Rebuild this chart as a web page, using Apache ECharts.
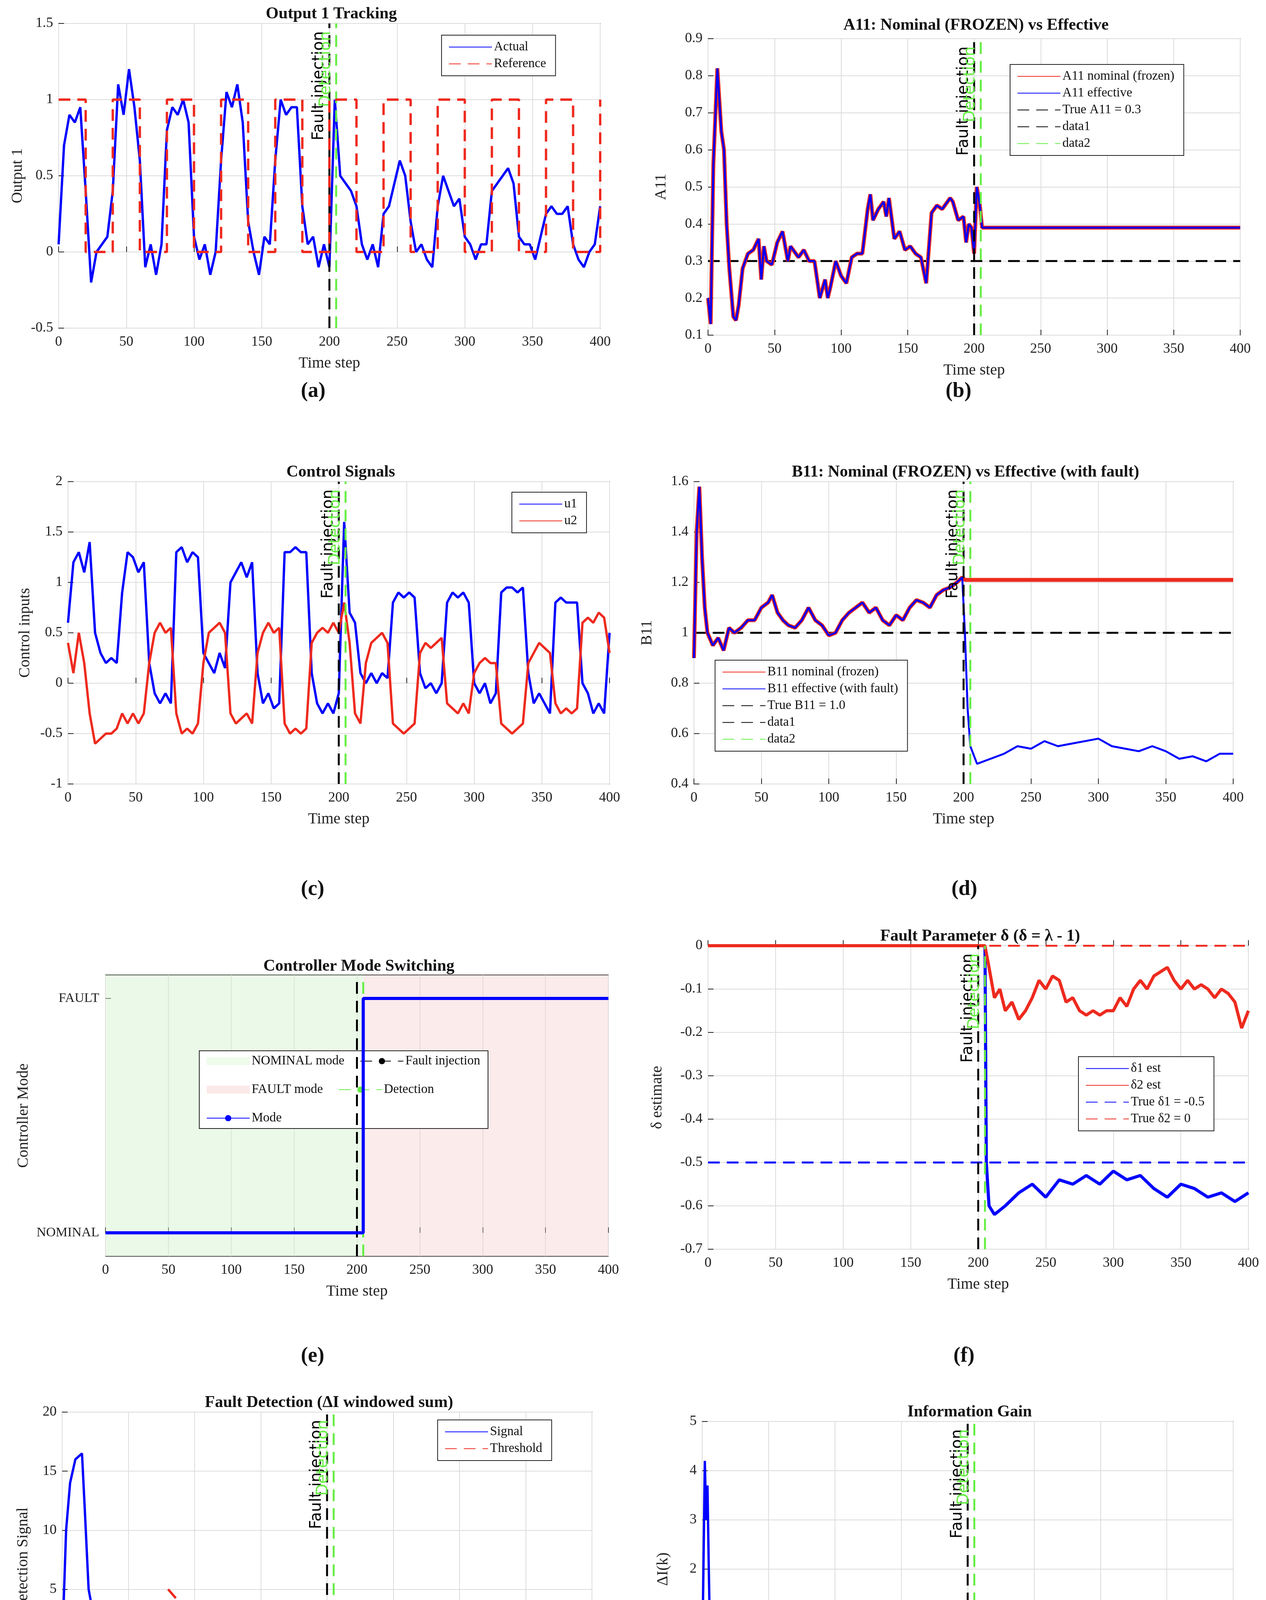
<!DOCTYPE html>
<html><head><meta charset="utf-8">
<script src="https://cdn.jsdelivr.net/npm/echarts@6/dist/echarts.min.js"></script>
<style>html,body{margin:0;background:#fff}#c{width:3240px;height:4710px}</style>
</head><body><div id="c"></div>
<script>
// ---------- data ----------
const T4 = Array.from({length:101},(_,i)=>i*4);
const outActual = [0.05,0.7,0.9,0.85,0.95,0.4,-0.2,0,0.05,0.1,0.4,1.1,0.9,1.2,0.95,0.6,-0.1,0.05,-0.15,0.05,0.8,0.95,0.9,1.0,0.85,0.1,-0.05,0.05,-0.15,0,0.6,1.05,0.95,1.1,0.85,0.2,0,-0.15,0.1,0.05,0.6,1.0,0.9,0.95,0.95,0.3,0.05,0.1,-0.1,0.05,-0.1,1.0,0.5,0.45,0.4,0.3,0.05,-0.05,0.05,-0.1,0.25,0.3,0.45,0.6,0.5,0.2,0,0.05,-0.05,-0.1,0.3,0.5,0.4,0.3,0.35,0.1,0.05,-0.05,0.05,0.05,0.4,0.45,0.5,0.55,0.45,0.1,0.05,0.05,-0.05,0.1,0.25,0.3,0.25,0.25,0.3,0.05,-0.05,-0.1,0,0.05,0.3];
const refT = [0,20,40,60,80,100,120,140,160,180,200,220,240,260,280,300,320,340,360,380,400];
const refV = [1,0,1,0,1,0,1,0,1,0,1,0,1,0,1,0,1,0,1,0,1];

const a11T = [0,2,4,7,10,12,14,16,19,21,23,26,30,34,38,40,42,44,48,52,56,60,62,64,68,72,76,80,84,88,90,92,96,100,104,108,112,116,120,122,124,128,132,134,136,140,144,148,152,156,160,164,168,172,176,180,182,184,188,192,194,196,198,200,202,204,206,400];
const a11V = [0.2,0.13,0.56,0.82,0.65,0.6,0.4,0.28,0.15,0.14,0.18,0.28,0.32,0.33,0.36,0.25,0.34,0.3,0.29,0.35,0.38,0.3,0.34,0.33,0.31,0.33,0.3,0.3,0.2,0.25,0.2,0.23,0.3,0.26,0.24,0.31,0.32,0.32,0.44,0.48,0.41,0.44,0.46,0.42,0.47,0.36,0.38,0.33,0.34,0.32,0.31,0.24,0.43,0.45,0.44,0.46,0.47,0.46,0.41,0.42,0.35,0.4,0.39,0.32,0.5,0.46,0.39,0.39];

const u1 = [0.6,1.2,1.3,1.1,1.4,0.5,0.3,0.2,0.25,0.2,0.9,1.3,1.25,1.1,1.2,0.2,-0.1,-0.2,-0.1,-0.2,1.3,1.35,1.2,1.3,1.25,0.3,0.2,0.1,0.3,0.15,1.0,1.1,1.2,1.05,1.2,0.1,-0.2,-0.1,-0.25,-0.2,1.3,1.3,1.35,1.3,1.3,0.1,-0.2,-0.3,-0.2,-0.3,-0.1,1.6,0.7,0.6,0.1,0.0,0.1,0.0,0.1,0.05,0.8,0.9,0.85,0.9,0.85,0.1,-0.05,0.0,-0.1,0.0,0.8,0.9,0.85,0.9,0.8,0.0,-0.1,0.0,-0.2,-0.1,0.9,0.95,0.95,0.9,0.95,0.1,-0.2,-0.1,-0.2,-0.3,0.8,0.85,0.8,0.8,0.8,0.0,-0.1,-0.3,-0.2,-0.3,0.5];
const u2 = [0.4,0.1,0.5,0.2,-0.3,-0.6,-0.55,-0.5,-0.5,-0.45,-0.3,-0.4,-0.3,-0.4,-0.3,0.2,0.5,0.6,0.5,0.55,-0.3,-0.5,-0.45,-0.5,-0.4,0.2,0.5,0.55,0.6,0.5,-0.3,-0.4,-0.35,-0.3,-0.4,0.3,0.5,0.6,0.5,0.55,-0.4,-0.5,-0.45,-0.5,-0.45,0.4,0.5,0.55,0.5,0.6,0.5,0.8,0.4,-0.3,-0.4,0.2,0.4,0.45,0.5,0.4,-0.4,-0.45,-0.5,-0.45,-0.4,0.3,0.4,0.35,0.4,0.45,-0.2,-0.25,-0.3,-0.2,-0.3,0.1,0.2,0.25,0.2,0.2,-0.4,-0.45,-0.5,-0.45,-0.4,0.2,0.3,0.4,0.35,0.3,-0.2,-0.3,-0.25,-0.3,-0.25,0.6,0.65,0.6,0.7,0.65,0.3];

const b11PreT = [0,2,4,6,8,10,14,18,22,26,30,35,40,45,50,55,58,62,66,70,75,80,85,90,95,100,105,110,115,120,125,130,135,140,145,150,155,160,165,170,175,180,185,190,195,199];
const b11PreV = [0.9,1.4,1.58,1.3,1.1,1.0,0.95,0.98,0.93,1.02,1.0,1.02,1.05,1.05,1.1,1.12,1.15,1.08,1.05,1.03,1.02,1.05,1.1,1.05,1.03,0.99,1.0,1.05,1.08,1.1,1.12,1.08,1.1,1.05,1.03,1.07,1.05,1.1,1.13,1.12,1.1,1.15,1.17,1.18,1.2,1.22];
const b11EffPostT = [201,203,205,210,220,230,240,250,260,270,280,290,300,310,320,330,340,350,360,370,380,390,400];
const b11EffPostV = [1.0,0.7,0.55,0.48,0.5,0.52,0.55,0.54,0.57,0.55,0.56,0.57,0.58,0.55,0.54,0.53,0.55,0.53,0.5,0.51,0.49,0.52,0.52];
const b11NomPostT = [201,400];
const b11NomPostV = [1.21,1.21];

const modeT = [0,205,205,400];
const modeV = [0,0,1,1];

const d1T = [0,205,206,208,212,220,230,240,250,260,270,280,290,300,310,320,330,340,350,360,370,380,390,400];
const d1V = [0,0,-0.5,-0.6,-0.62,-0.6,-0.57,-0.55,-0.58,-0.54,-0.55,-0.53,-0.55,-0.52,-0.54,-0.53,-0.56,-0.58,-0.55,-0.56,-0.58,-0.57,-0.59,-0.57];
const d2T = [0,205,208,212,216,220,225,230,235,240,245,250,255,260,265,270,275,280,285,290,295,300,305,310,315,320,325,330,335,340,345,350,355,360,365,370,375,380,385,390,395,400];
const d2V = [0,0,-0.05,-0.12,-0.1,-0.15,-0.13,-0.17,-0.15,-0.12,-0.08,-0.1,-0.07,-0.08,-0.13,-0.12,-0.15,-0.16,-0.15,-0.16,-0.15,-0.15,-0.12,-0.14,-0.1,-0.08,-0.1,-0.07,-0.06,-0.05,-0.08,-0.1,-0.08,-0.1,-0.09,-0.1,-0.12,-0.1,-0.11,-0.13,-0.19,-0.15];

const detT = [0,3,6,10,15,17,20,25,30,35,40,45,50,55,60,65,70,75,80,85,90,95,100,105,110,115,120,125,130,135,140,145,150,155,160,165,170,175,180,185,190,195,200,203,205,400];
const detV = [0,10,14,16,16.5,12,5,2,0,-2,-1.5,1,1.5,2.3,0,-1,1,-1,-1.5,1.2,2,1,-0.8,-1,-1,1.5,1.3,-1,-1,-0.5,1.2,0,-1.2,-1,1.8,1.5,-0.5,-1,-0.8,-1,-1,-0.8,-0.5,1.5,0,0];
const thrT = [80,105,400];
const thrV = [5,1.8,1.8];

const igT = [0,2,3,4,5,6,8,10,12,15,17,20,25,30,35,38,42,45,50,55,60,65,70,75,80,83,87,90,95,100,105,110,115,120,123,127,130,135,140,143,148,152,155,160,163,168,172,176,180,185,190,195,200,202,205,208,212,220,230,240,250,260,270,280,290,300,310,320,330,340,350,360,370,380,390,400];
const igV = [0,4.2,3,3.7,2,0.5,1,0.3,0,0.6,-0.2,-0.3,0,-0.1,0.1,-0.1,0.8,0,-0.1,0.2,0.1,-0.1,0,0.1,0.8,0,-0.1,0.3,0,0.1,0,0.2,0,1.0,0.1,0,0.2,-0.1,0.6,-0.1,0.1,-0.2,0.1,0.5,0,-0.1,0.1,-0.1,0,0.1,-0.1,0,0.2,0.7,0.5,0.2,0.1,0.05,0,0.05,0,-0.05,0.05,0,0.05,0,0,0.1,0,0,0.05,0,0.1,0,0.05,0.05];

// ---------- helpers ----------
const pair = (t,v)=>t.map((x,i)=>[x,v[i]]);
const BLUE='#0000ff', RED='#ee2a1e', GREEN='#66ee44', BLACK='#000';
const SERIF='Liberation Serif';
const grids=[],xAxes=[],yAxes=[],series=[],titles=[],legends=[],graphics=[];

function panel(g){
  const i=grids.length;
  grids.push({left:g.left,top:g.top,width:g.width,height:g.height,show:true,borderColor:'#222',borderWidth:2,backgroundColor:'#fff'});
  xAxes.push({type:'value',gridIndex:i,min:0,max:400,interval:50,name:'Time step',nameLocation:'middle',nameGap:70,
    nameTextStyle:{fontFamily:SERIF,fontSize:40,color:'#222'},
    axisLine:{show:false},axisTick:{inside:true,length:14,lineStyle:{color:'#222',width:2}},
    axisLabel:{fontFamily:SERIF,fontSize:36,color:'#222',margin:18},
    splitLine:{show:true,lineStyle:{color:'#dcdcdc',width:2}}});
  const ya={type:'value',gridIndex:i,min:g.ymin,max:g.ymax,interval:g.yint,name:g.yname,nameLocation:'middle',nameGap:g.nameGap||95,
    nameTextStyle:{fontFamily:SERIF,fontSize:40,color:'#222'},
    axisLine:{show:false},axisTick:{inside:true,length:14,lineStyle:{color:'#222',width:2}},
    axisLabel:{fontFamily:SERIF,fontSize:36,color:'#222',margin:14},
    splitLine:{show:true,lineStyle:{color:'#dcdcdc',width:2}}};
  if(g.yextra) Object.assign(ya,g.yextra);
  yAxes.push(ya);
  titles.push({text:g.title,left:g.left+g.width/2,top:g.top-g.titleOff,textAlign:'center',
    textStyle:{fontFamily:SERIF,fontSize:42,fontWeight:'bold',color:'#111'}});
  graphics.push({type:'text',left:g.labX,top:g.labY,style:{text:g.lab,fontFamily:SERIF,fontSize:54,fontWeight:'bold',fill:'#111'}});
  return i;
}
function line(i,name,data,color,opt={}){
  const s={type:'line',name,xAxisIndex:i,yAxisIndex:i,data,symbol:'none',z:opt.z||3,
    lineStyle:{color,width:opt.w||6,type:opt.dash?[30,18]:'solid'},itemStyle:{color},step:opt.step||false,animation:false};
  series.push(s);
}
function vlines(i,ymin,ymax,n1,n2){
  const mk=(x,txt,col)=>({symbol:'none',silent:true,animation:false,
    lineStyle:{color:'rgba(0,0,0,0)',width:1,type:'solid'},
    data:[{xAxis:x}],label:{show:true,formatter:txt,position:'insideEndTop',distance:[20,6],
      fontFamily:'DejaVu Sans',fontSize:40,color:col}});
  series.push({type:'line',name:n1,xAxisIndex:i,yAxisIndex:i,data:[[200,ymin],[200,ymax]],symbol:'none',z:4,
    lineStyle:{color:BLACK,width:5,type:[30,18]},itemStyle:{color:BLACK},animation:false,
    markLine:mk(200,'Fault injection','#000')});
  series.push({type:'line',name:n2,xAxisIndex:i,yAxisIndex:i,data:[[205,ymin],[205,ymax]],symbol:'none',z:4,
    lineStyle:{color:GREEN,width:5,type:[30,18]},itemStyle:{color:GREEN},animation:false,
    markLine:mk(205,'Detection',GREEN)});
}
function legend(i,names,pos,extra={}){
  legends.push(Object.assign({data:names,orient:'vertical',left:pos[0],top:pos[1],
    backgroundColor:'#fff',borderColor:'#222',borderWidth:2,padding:[14,24,14,18],itemGap:10,
    itemWidth:110,itemHeight:20,itemStyle:{opacity:0},textStyle:{fontFamily:SERIF,fontSize:33,color:'#111'}},extra));
}

// (a)
let p=panel({left:150,top:60,width:1386,height:780,ymin:-0.5,ymax:1.5,yint:0.5,yname:'Output 1',nameGap:85,
  title:'Output 1 Tracking',titleOff:50,lab:'(a)',labX:770,labY:975});
line(p,'Actual',pair(T4,outActual),BLUE,{w:6});
line(p,'Reference',pair(refT,refV),RED,{dash:true,step:'end',z:5});
vlines(p,-0.5,1.5,'fi_a','det_a');
legend(p,['Actual','Reference'],[1130,90]);

// (b)
p=panel({left:1812,top:99,width:1362,height:759,ymin:0.1,ymax:0.9,yint:0.1,yname:'A11',nameGap:100,
  title:'A11: Nominal (FROZEN) vs Effective',titleOff:60,lab:'(b)',labX:2420,labY:975});
series.push({type:'line',name:'True A11 = 0.3',xAxisIndex:p,yAxisIndex:p,data:[[0,0.3],[400,0.3]],symbol:'none',z:2,
  lineStyle:{color:BLACK,width:5,type:[30,18]},itemStyle:{color:BLACK}});
line(p,'A11 nominal (frozen)',pair(a11T,a11V),RED,{w:10});
line(p,'A11 effective',pair(a11T,a11V),BLUE,{w:5,z:4});
vlines(p,0.1,0.9,'data1','data2');
legend(p,['A11 nominal (frozen)','A11 effective','True A11 = 0.3','data1','data2'],[2585,165]);

// (c)
p=panel({left:174,top:1233,width:1386,height:774,ymin:-1,ymax:2,yint:0.5,yname:'Control inputs',nameGap:90,
  title:'Control Signals',titleOff:50,lab:'(c)',labX:770,labY:2250});
line(p,'u1',pair(T4,u1),BLUE);
line(p,'u2',pair(T4,u2),RED);
vlines(p,-1,2,'fi_c','det_c');
legend(p,['u1','u2'],[1310,1260]);

// (d)
p=panel({left:1776,top:1233,width:1380,height:774,ymin:0.4,ymax:1.6,yint:0.2,yname:'B11',nameGap:100,
  title:'B11: Nominal (FROZEN) vs Effective (with fault)',titleOff:50,lab:'(d)',labX:2435,labY:2250});
series.push({type:'line',name:'True B11 = 1.0',xAxisIndex:p,yAxisIndex:p,data:[[0,1],[400,1]],symbol:'none',z:2,
  lineStyle:{color:BLACK,width:5,type:[30,18]},itemStyle:{color:BLACK}});
line(p,'B11 nominal (frozen)',pair(b11PreT.concat(b11NomPostT),b11PreV.concat(b11NomPostV)),RED,{w:10});
line(p,'B11 effective (with fault)',pair(b11PreT.concat(b11EffPostT),b11PreV.concat(b11EffPostV)),BLUE,{w:5,z:4});
vlines(p,0.4,1.6,'data1','data2');
legend(p,['B11 nominal (frozen)','B11 effective (with fault)','True B11 = 1.0','data1','data2'],[1830,1690]);

// (e)
p=panel({left:270,top:2496,width:1287,height:720,ymin:-0.1,ymax:1.1,yint:null,yname:'Controller Mode',nameGap:190,
  title:'Controller Mode Switching',titleOff:48,lab:'(e)',labX:770,labY:3445,
  yextra:{axisLabel:{fontFamily:SERIF,fontSize:34,color:'#222',margin:16,customValues:[0,1],
    formatter:v=>v===0?'NOMINAL':(v===1?'FAULT':'')},axisTick:{show:true,inside:true,length:14,customValues:[0,1],lineStyle:{color:'#222',width:2}},
    splitLine:{show:false}}});
series.push({type:'line',name:'NOMINAL mode',xAxisIndex:p,yAxisIndex:p,data:[],symbol:'none',itemStyle:{color:'#eefbea'},
  markArea:{silent:true,itemStyle:{color:'rgba(210,245,205,0.45)'},data:[[{xAxis:0},{xAxis:205}]]}});
series.push({type:'line',name:'FAULT mode',xAxisIndex:p,yAxisIndex:p,data:[],symbol:'none',itemStyle:{color:'#fbe9e8'},
  markArea:{silent:true,itemStyle:{color:'rgba(245,205,205,0.4)'},data:[[{xAxis:205},{xAxis:400}]]}});
line(p,'Mode',pair(modeT,modeV),BLUE,{w:8,z:5});
series.push({type:'line',name:'Fault injection',xAxisIndex:p,yAxisIndex:p,data:[[200,-0.1],[200,1.1]],symbol:'none',z:4,
  lineStyle:{color:BLACK,width:5,type:[30,18]},itemStyle:{color:BLACK}});
series.push({type:'line',name:'Detection',xAxisIndex:p,yAxisIndex:p,data:[[205,-0.1],[205,1.1]],symbol:'none',z:4,
  lineStyle:{color:GREEN,width:5,type:[30,18]},itemStyle:{color:GREEN}});
legends.push({data:[{name:'NOMINAL mode',icon:'rect'},'Fault injection',{name:'FAULT mode',icon:'rect'},'Detection','Mode'],
  orient:'horizontal',left:510,top:2690,width:740,backgroundColor:'#fff',borderColor:'#222',borderWidth:2,
  padding:[10,20,10,18],itemGap:40,itemWidth:110,itemHeight:20,textStyle:{fontFamily:SERIF,fontSize:33,color:'#111',width:280}});

// (f)
p=panel({left:1812,top:2421,width:1383,height:777,ymin:-0.7,ymax:0,yint:0.1,yname:'δ estimate',nameGap:110,
  title:'Fault Parameter δ (δ = λ - 1)',titleOff:50,lab:'(f)',labX:2440,labY:3445});
series.push({type:'line',name:'True δ1 = -0.5',xAxisIndex:p,yAxisIndex:p,data:[[0,-0.5],[400,-0.5]],symbol:'none',z:2,
  lineStyle:{color:BLUE,width:5,type:[30,18]},itemStyle:{color:BLUE}});
series.push({type:'line',name:'True δ2 = 0',xAxisIndex:p,yAxisIndex:p,data:[[0,0],[400,0]],symbol:'none',z:2,
  lineStyle:{color:RED,width:5,type:[30,18]},itemStyle:{color:RED}});
line(p,'δ1 est',pair(d1T,d1V),BLUE,{w:8,z:4});
line(p,'δ2 est',pair(d2T,d2V),RED,{w:8,z:4});
vlines(p,-0.7,0,'fi_f','det_f');
legend(p,['δ1 est','δ2 est','True δ1 = -0.5','True δ2 = 0'],[2760,2705]);

// (g)
p=panel({left:159,top:3615,width:1356,height:756,ymin:-5,ymax:20,yint:5,yname:'Detection Signal',nameGap:80,
  title:'Fault Detection (ΔI windowed sum)',titleOff:50,lab:'(g)',labX:770,labY:4625});
line(p,'Signal',pair(detT,detV),BLUE);
line(p,'Threshold',pair(thrT,thrV),RED,{dash:true,z:4});
vlines(p,-5,20,'fi_g','det_g');
legend(p,['Signal','Threshold'],[1120,3635]);

// (h)
p=panel({left:1797,top:3639,width:1359,height:756,ymin:-1,ymax:5,yint:1,yname:'ΔI(k)',nameGap:80,
  title:'Information Gain',titleOff:50,lab:'(h)',labX:2440,labY:4625});
line(p,'ig',pair(igT,igV),BLUE);
vlines(p,-1,5,'fi_h','det_h');

const chart=echarts.init(document.getElementById('c'),null,{renderer:'canvas'});
chart.setOption({animation:false,backgroundColor:'#fff',title:titles,grid:grids,xAxis:xAxes,yAxis:yAxes,series,legend:legends,graphic:graphics});
</script></body></html>
